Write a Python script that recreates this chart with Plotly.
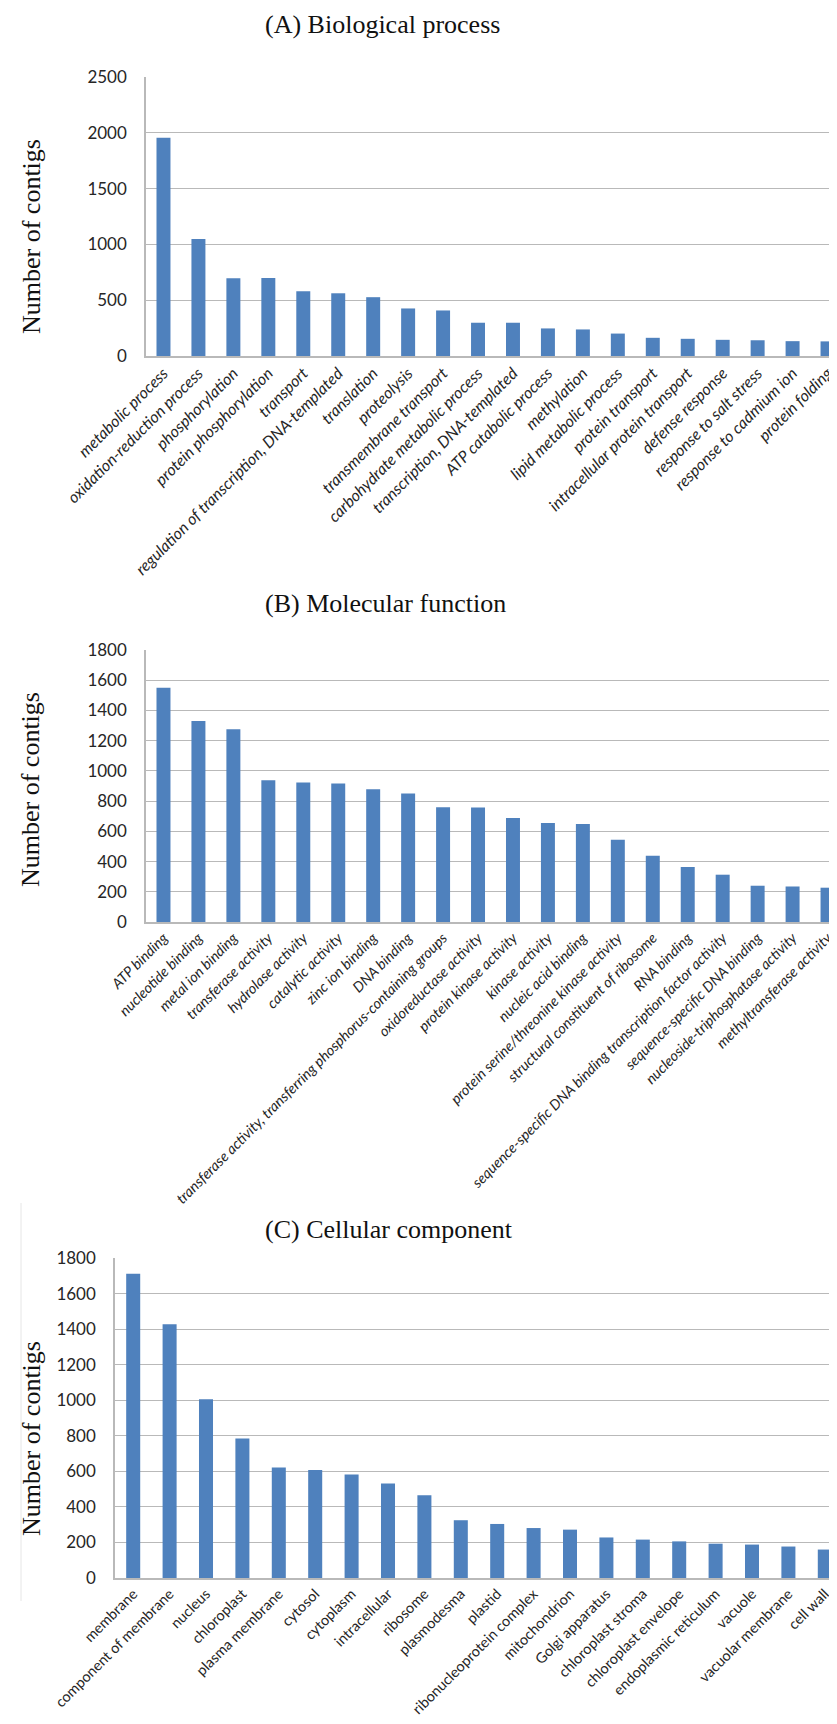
import plotly.graph_objects as go

W, H = 837, 1724

# ----------------------------------------
# Data
# ----------------------------------------

bp_terms = [
    "metabolic process", "oxidation-reduction process", "phosphorylation",
    "protein phosphorylation", "transport",
    "regulation of transcription, DNA-templated", "translation", "proteolysis",
    "transmembrane transport", "carbohydrate metabolic process",
    "transcription, DNA-templated", "ATP catabolic process", "methylation",
    "lipid metabolic process", "protein transport",
    "intracellular protein transport", "defense response",
    "response to salt stress", "response to cadmium ion", "protein folding",
]
bp_counts = [1955, 1048, 697, 700, 580, 562, 527, 426, 408, 298,
             298, 247, 238, 201, 163, 154, 145, 141, 133, 131]

mf_terms = [
    "ATP binding", "nucleotide binding", "metal ion binding",
    "transferase activity", "hydrolase activity", "catalytic activity",
    "zinc ion binding", "DNA binding",
    "transferase activity, transferring phosphorus-containing groups",
    "oxidoreductase activity", "protein kinase activity", "kinase activity",
    "nucleic acid binding", "protein serine/threonine kinase activity",
    "structural constituent of ribosome", "RNA binding",
    "sequence-specific DNA binding transcription factor activity",
    "sequence-specific DNA binding", "nucleoside-triphosphatase activity",
    "methyltransferase activity",
]
mf_counts = [1550, 1330, 1275, 938, 923, 916, 878, 851, 760, 758,
             688, 655, 648, 545, 438, 364, 313, 240, 235, 227]

cc_terms = [
    "membrane", "component of membrane", "nucleus", "chloroplast",
    "plasma membrane", "cytosol", "cytoplasm", "intracellular", "ribosome",
    "plasmodesma", "plastid", "ribonucleoprotein complex", "mitochondrion",
    "Golgi apparatus", "chloroplast stroma", "chloroplast envelope",
    "endoplasmic reticulum", "vacuole", "vacuolar membrane", "cell wall",
]
cc_counts = [1712, 1428, 1006, 784, 622, 607, 582, 531, 465, 325,
             304, 281, 272, 228, 216, 206, 193, 188, 177, 160]

BAR = "#4f81bd"
GRID = "#b9b9b9"


def px_x(v):
    return v / W


def px_y(v):
    return 1 - v / H


# ----------------------------------------
# Panels
# ----------------------------------------

panels = [
    # terms, counts, title, x px (left, right), y px (top, bottom), ymax, dtick,
    # title y, ytitle y, label size, italic, bar width
    (bp_terms, bp_counts, "(A) Biological process", (138, 837), (69, 348),
     2500, 500, 17, 229, 16, "italic", 0.4),
    (mf_terms, mf_counts, "(B) Molecular function", (138, 837), (642, 914),
     1800, 200, 595, 782, 14.5, "italic", 0.4),
    (cc_terms, cc_counts, "(C) Cellular component", (107, 835), (1250, 1570),
     1800, 200, 1221, 1431, 14.5, "normal", 0.385),
]

fig = go.Figure()
annotations = []

for i, p in enumerate(panels, start=1):
    terms, counts, title, (xl, xr), (yt, yb), ymax, dtick, \
        ty, yty, lsize, lstyle, bw = p
    sfx = "" if i == 1 else str(i)

    fig.add_trace(go.Bar(
        x=terms,
        y=counts,
        width=bw,
        marker=dict(color=BAR, line=dict(width=0)),
        xaxis="x" + sfx,
        yaxis="y" + sfx,
        showlegend=False,
    ))

    fig.layout["xaxis" + sfx] = dict(
        domain=[px_x(xl), px_x(xr)],
        anchor="y" + sfx,
        automargin=False,
        tickangle=-45,
        tickfont=dict(family="Lato", size=lsize, color="#262626", style=lstyle),
        showline=True, linecolor=GRID, linewidth=1.5,
        showgrid=False, ticks="", fixedrange=True,
    )
    fig.layout["yaxis" + sfx] = dict(
        domain=[px_y(yb), px_y(yt)],
        anchor="x" + sfx,
        automargin=False,
        range=[0, ymax],
        dtick=dtick,
        tickfont=dict(family="Lato", size=17, color="#262626"),
        ticklabelstandoff=14,
        showline=True, linecolor=GRID, linewidth=1.5,
        showgrid=True, gridcolor=GRID, gridwidth=1.4,
        zeroline=False, ticks="",
    )

    annotations.append(dict(
        text=title, xref="paper", yref="paper",
        x=px_x(255), y=px_y(ty), xanchor="left", yanchor="middle",
        showarrow=False,
        font=dict(family="Liberation Serif", size=26, color="#111111"),
    ))
    annotations.append(dict(
        text="Number of contigs", xref="paper", yref="paper",
        x=px_x(23), y=px_y(yty), xanchor="center", yanchor="middle",
        textangle=-90, showarrow=False,
        font=dict(family="Liberation Serif", size=26, color="#111111"),
    ))

fig.update_layout(
    width=W,
    height=H,
    margin=dict(l=0, r=0, t=0, b=0, autoexpand=False),
    plot_bgcolor="white",
    paper_bgcolor="white",
    annotations=annotations,
    shapes=[dict(
        type="line", xref="paper", yref="paper",
        x0=px_x(13), x1=px_x(13), y0=px_y(1195), y1=px_y(1593),
        line=dict(color="#e6e6e6", width=1),
    )],
)

fig.write_html("out.html")
